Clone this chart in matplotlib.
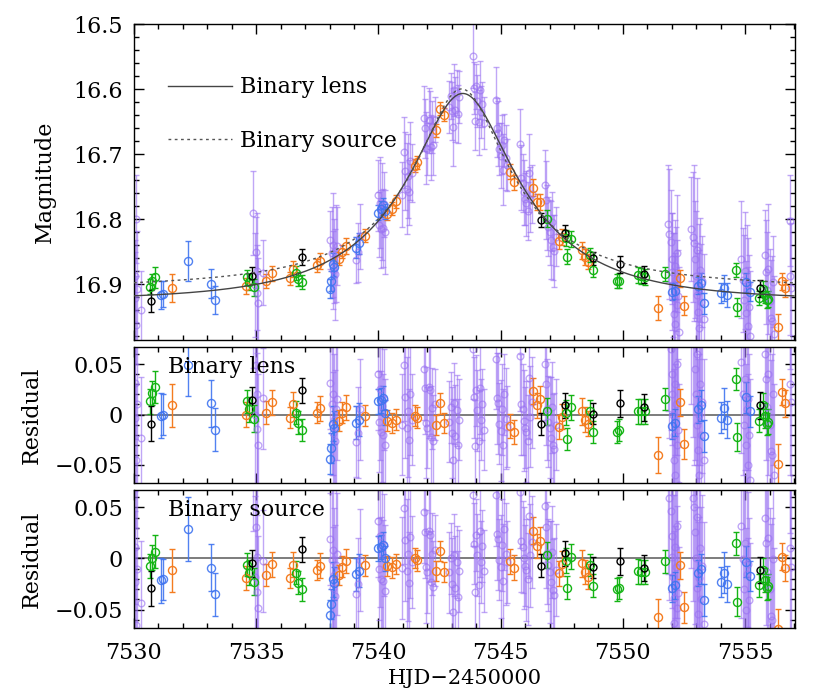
import numpy as np
import matplotlib.pyplot as plt
from matplotlib.ticker import MultipleLocator

plt.rcParams['font.family'] = ['DejaVu Serif']

# residuals w.r.t. the binary-lens model (model - data, mag)
black_t = [7530.70, 7534.84, 7536.87, 7546.67, 7547.64, 7548.79, 7549.90, 7550.86, 7555.60]
black_r = [-0.009, 0.014, 0.024, -0.009, 0.009, 0.001, 0.011, 0.007, 0.009]
black_e = [0.017, 0.013, 0.0125, 0.011, 0.012, 0.010, 0.013, 0.013, 0.013]

green_t = [7530.65, 7530.75, 7530.86, 7534.63, 7534.72, 7534.90, 7536.61, 7536.72, 7536.86,
           7546.90, 7547.66, 7547.73, 7547.87, 7548.65, 7548.76, 7549.74, 7549.85, 7550.60,
           7550.76, 7550.90, 7551.74, 7554.61, 7554.68, 7555.56, 7555.74, 7555.80, 7555.88, 7555.92]
green_r = [0.013, 0.021, 0.027, 0.013, 0.005, -0.004, 0.002, -0.008, -0.015,
           0.003, 0.002, -0.024, 0.007, 0.003, -0.017, -0.017, -0.015, 0.003,
           0.003, 0.003, 0.015, 0.035, -0.022, -0.006, 0.009, -0.001, -0.009, -0.007]
green_e = [0.012, 0.012, 0.016, 0.011, 0.012, 0.013, 0.011, 0.011, 0.011,
           0.013, 0.012, 0.011, 0.012, 0.011, 0.011, 0.011, 0.011, 0.012,
           0.012, 0.012, 0.011, 0.011, 0.014, 0.011, 0.012, 0.012, 0.011, 0.012]

blue_t = [7531.09, 7531.20, 7532.20, 7533.14, 7533.30, 7538.02, 7538.07, 7538.13, 7538.17,
          7539.10, 7539.22, 7539.99, 7540.10, 7540.17, 7540.27, 7551.99, 7552.12, 7553.08,
          7553.18, 7553.32, 7554.00, 7554.15, 7554.26, 7555.05, 7555.19]
blue_r = [-0.001, 0.000, 0.049, 0.011, -0.015, -0.044, -0.033, -0.009, -0.013,
          -0.008, -0.005, 0.013, 0.014, 0.016, 0.002, -0.011, -0.008, 0.005,
          0.009, -0.021, -0.003, 0.006, -0.005, 0.017, 0.003]
blue_e = [0.022, 0.020, 0.031, 0.023, 0.021, 0.015, 0.015, 0.017, 0.016,
          0.016, 0.016, 0.012, 0.012, 0.012, 0.012, 0.013, 0.013, 0.013,
          0.015, 0.016, 0.015, 0.020, 0.018, 0.015, 0.015]

orange_t = [7531.55, 7534.57, 7535.39, 7535.63, 7536.38, 7536.52, 7537.47, 7537.61, 7538.38,
            7538.51, 7538.67, 7539.45, 7540.36, 7540.54, 7540.70, 7541.49, 7541.59, 7542.35,
            7542.52, 7542.68, 7545.40, 7545.55, 7546.33, 7546.49, 7546.60, 7547.39, 7547.49,
            7548.33, 7548.45, 7548.57, 7551.44, 7552.35, 7552.50, 7556.35, 7556.49, 7556.65]
orange_r = [0.009, 0.000, 0.002, 0.012, -0.003, 0.010, 0.002, 0.006, -0.006,
            0.002, 0.007, -0.001, -0.006, -0.008, -0.005, -0.001, -0.003, -0.010,
            0.011, -0.008, -0.011, -0.017, 0.023, 0.009, 0.015, -0.012, -0.002,
            0.003, -0.005, -0.009, -0.040, 0.012, -0.029, -0.049, 0.022, 0.011]
orange_e = [0.021, 0.012, 0.011, 0.012, 0.010, 0.012, 0.010, 0.012, 0.010,
            0.010, 0.012, 0.010, 0.010, 0.010, 0.010, 0.010, 0.010, 0.010,
            0.010, 0.010, 0.012, 0.012, 0.013, 0.012, 0.013, 0.012, 0.012,
            0.013, 0.012, 0.012, 0.018, 0.013, 0.015, 0.020, 0.013, 0.013]

purple_t = [7530.10, 7530.05, 7530.06, 7530.08, 7530.12, 7530.29,
            7534.85, 7534.95, 7535.00, 7535.02, 7535.05, 7535.08, 7535.29,
            7538.02, 7538.10, 7538.13, 7538.16, 7538.19, 7538.22, 7538.25, 7538.30,
            7539.10, 7539.18, 7539.25,
            7539.98, 7540.02, 7540.06, 7540.10, 7540.14, 7540.18, 7540.23, 7540.28,
            7540.95, 7541.05, 7541.10, 7541.15, 7541.20, 7541.25, 7541.30, 7541.38,
            7541.85, 7541.90, 7541.95, 7542.00, 7542.05, 7542.10, 7542.15, 7542.20, 7542.25, 7542.30,
            7542.90, 7542.95, 7543.00, 7543.05, 7543.10, 7543.15, 7543.20, 7543.25, 7543.30,
            7543.85, 7543.90, 7543.95, 7544.00, 7544.05, 7544.10, 7544.15, 7544.20, 7544.25, 7544.30,
            7544.80, 7544.85, 7544.90, 7544.95, 7545.00, 7545.05, 7545.10, 7545.15, 7545.20, 7545.25,
            7545.80, 7545.85, 7545.90, 7545.95, 7546.00, 7546.05, 7546.10, 7546.15, 7546.20, 7546.30,
            7546.80, 7546.85, 7546.90, 7546.95, 7547.00, 7547.05, 7547.10, 7547.15, 7547.20, 7547.25,
            7551.85, 7551.90, 7551.95, 7552.00, 7552.02, 7552.05, 7552.08, 7552.10, 7552.12, 7552.15,
            7552.18, 7552.20, 7552.23, 7552.26, 7552.30,
            7552.80, 7552.85, 7552.90, 7552.95, 7553.00, 7553.02, 7553.05, 7553.08, 7553.10, 7553.13,
            7553.16, 7553.20, 7553.25, 7553.30,
            7554.85, 7554.90, 7554.95, 7555.00, 7555.03, 7555.06, 7555.10, 7555.13, 7555.17, 7555.20,
            7555.80, 7555.85, 7555.90, 7555.95, 7556.00, 7556.05, 7556.10, 7556.15, 7556.20,
            7556.83, 7556.85, 7556.88]
purple_r = [0.118, 0.031, -0.003, -0.045, 0.010, -0.023,
            0.111, 0.000, 0.049, -0.014, 0.020, -0.030, 0.016,
            0.031, 0.010, -0.018, 0.020, -0.005, -0.026, 0.005, 0.015,
            -0.027, -0.018, 0.005,
            0.040, -0.007, 0.025, -0.017, 0.008, -0.020, 0.015, -0.030,
            -0.010, 0.049, 0.017, -0.013, 0.003, -0.025, 0.020, -0.005,
            0.045, 0.026, -0.008, -0.013, 0.027, 0.024, -0.022, 0.006, -0.026, 0.010,
            -0.007, 0.007, -0.018, -0.045, 0.011, -0.021, 0.004, -0.030, -0.005,
            0.065, 0.017, -0.031, 0.024, 0.004, -0.026, 0.026, -0.005, 0.010, -0.015,
            0.055, 0.016, 0.011, -0.009, -0.016, 0.005, -0.030, 0.020, -0.004, -0.012,
            0.058, 0.010, 0.005, -0.006, -0.013, -0.017, -0.026, 0.036, -0.002, 0.012,
            0.050, 0.030, 0.005, -0.007, -0.013, -0.023, 0.007, -0.030, -0.034, -0.010,
            0.093, 0.077, 0.065, 0.040, 0.020, 0.000, -0.020, -0.045, 0.030, -0.060,
            0.010, -0.030, 0.050, -0.015, -0.070,
            0.090, 0.078, 0.070, 0.045, 0.020, -0.010, 0.060, -0.035, 0.000, -0.060,
            0.030, -0.020, 0.012, -0.045,
            0.052, 0.020, -0.010, 0.035, -0.030, 0.005, -0.050, 0.015, -0.020, -0.065,
            0.060, 0.035, 0.007, 0.040, -0.010, -0.036, -0.040, 0.020, -0.060,
            0.115, 0.030, 0.012]
purple_e = [0.068, 0.055, 0.070, 0.075, 0.090, 0.060,
            0.065, 0.080, 0.055, 0.075, 0.090, 0.070, 0.050,
            0.045, 0.070, 0.060, 0.080, 0.065, 0.070, 0.075, 0.060,
            0.035, 0.045, 0.050,
            0.055, 0.050, 0.070, 0.060, 0.075, 0.060, 0.050, 0.065,
            0.050, 0.055, 0.060, 0.070, 0.065, 0.050, 0.060, 0.045,
            0.050, 0.045, 0.055, 0.040, 0.050, 0.045, 0.050, 0.040, 0.045, 0.035,
            0.040, 0.035, 0.045, 0.060, 0.040, 0.050, 0.035, 0.045, 0.040,
            0.050, 0.040, 0.045, 0.035, 0.040, 0.050, 0.045, 0.040, 0.035, 0.040,
            0.050, 0.045, 0.050, 0.040, 0.050, 0.045, 0.055, 0.040, 0.050, 0.040,
            0.055, 0.050, 0.045, 0.050, 0.040, 0.050, 0.045, 0.060, 0.050, 0.045,
            0.055, 0.060, 0.050, 0.045, 0.050, 0.060, 0.045, 0.050, 0.055, 0.045,
            0.090, 0.100, 0.080, 0.070, 0.090, 0.080, 0.100, 0.090, 0.070, 0.110,
            0.080, 0.100, 0.090, 0.070, 0.100,
            0.080, 0.100, 0.120, 0.090, 0.100, 0.080, 0.110, 0.090, 0.100, 0.120,
            0.080, 0.090, 0.070, 0.100,
            0.090, 0.080, 0.100, 0.090, 0.080, 0.100, 0.090, 0.070, 0.080, 0.100,
            0.070, 0.080, 0.090, 0.100, 0.080, 0.090, 0.100, 0.070, 0.090,
            0.070, 0.090, 0.100]


def pacz(t, t0, u0, tE):
    u = np.sqrt(u0**2 + ((t - t0) / tE)**2)
    return (u**2 + 2) / (u * np.sqrt(u**2 + 4))


def lens_mag(t):
    return 16.925 - 2.5 * np.log10(1 + 0.1714 * (pacz(t, 7543.45, 0.35, 5.8) - 1))


def source_mag(t):
    return 16.925 - 2.5 * np.log10(1 + 0.1498 * (pacz(t, 7543.4, 0.33, 5.3) - 1)
                                   + 0.2 * (pacz(t, 7543.5, 1.5, 20.0) - 1))


sets = [(purple_t, purple_r, purple_e, '#9a72f2', 0.62, 4.8),
        (orange_t, orange_r, orange_e, '#f47c20', 1.0, 5.8),
        (blue_t, blue_r, blue_e, '#3f74f0', 0.9, 5.8),
        (green_t, green_r, green_e, '#14b414', 1.0, 5.8),
        (black_t, black_r, black_e, 'black', 1.0, 5.0)]

fig = plt.figure(figsize=(8.3, 6.96), dpi=100)
ax1 = fig.add_axes([0.1614, 0.5115, 0.7964, 0.4540])
ax2 = fig.add_axes([0.1614, 0.3060, 0.7964, 0.1954])
ax3 = fig.add_axes([0.1614, 0.0977, 0.7964, 0.1983])

tt = np.linspace(7530, 7557, 800)
ln_lens, = ax1.plot(tt, lens_mag(tt), color='#444444', lw=1.0, zorder=5)
ln_src, = ax1.plot(tt, source_mag(tt), color='#555555', lw=1.0, ls=(0, (2, 2.5)), zorder=5)

for t, r, e, c, a, ms in sets:
    t = np.array(t)
    r = np.array(r)
    mag = lens_mag(t) - r
    r_src = source_mag(t) - mag
    kw = dict(fmt='o', ms=ms, mfc='none', mec=c, mew=1.0, ecolor=c, elinewidth=1.0,
              capsize=2.5, capthick=1.0, alpha=a)
    ax1.errorbar(t, mag, yerr=e, **kw)
    ax2.errorbar(t, r, yerr=e, **kw)
    ax3.errorbar(t, r_src, yerr=e, **kw)

ax1.set_ylim(16.986, 16.5)
ax1.yaxis.set_major_locator(MultipleLocator(0.1))
ax1.yaxis.set_minor_locator(MultipleLocator(0.02))
ax1.set_ylabel('Magnitude', fontsize=16)
ax1.yaxis.set_label_coords(-0.118, 0.5)
ax1.legend([ln_lens, ln_src], ['Binary lens', 'Binary source'], loc='upper left',
           bbox_to_anchor=(0.051, 0.834), frameon=False, fontsize=16, handlelength=2.9,
           handletextpad=0.35, labelspacing=1.4, borderpad=0, borderaxespad=0)

for ax, lab in [(ax2, 'Binary lens'), (ax3, 'Binary source')]:
    ax.axhline(0, color='#666666', lw=1.2, zorder=0)
    ax.set_ylim(-0.068, 0.067)
    ax.yaxis.set_minor_locator(MultipleLocator(0.01))
    ax.set_yticks([-0.05, 0, 0.05])
    ax.set_yticklabels(['\u22120.05', '0', '0.05'])
    ax.set_ylabel('Residual', fontsize=16)
    ax.yaxis.set_label_coords(-0.138, 0.5)
    ax.text(0.051, 0.855, lab, transform=ax.transAxes, fontsize=16, va='center', zorder=10)

for ax in (ax1, ax2, ax3):
    ax.set_xlim(7530, 7557.04)
    ax.xaxis.set_major_locator(MultipleLocator(5))
    ax.xaxis.set_minor_locator(MultipleLocator(1))
    ax.tick_params(which='both', direction='in', top=True, right=True, labelsize=16, width=1)
    ax.tick_params(which='major', length=7, pad=8)
    ax.tick_params(which='minor', length=3.5)
    for s in ax.spines.values():
        s.set_linewidth(1.0)

ax1.tick_params(labelbottom=False)
ax2.tick_params(labelbottom=False)
ax3.tick_params(axis='x', which='major', pad=10)
ax3.set_xlabel('HJD\u22122450000', fontsize=15, labelpad=4)

fig.savefig('out.png', dpi=100)
